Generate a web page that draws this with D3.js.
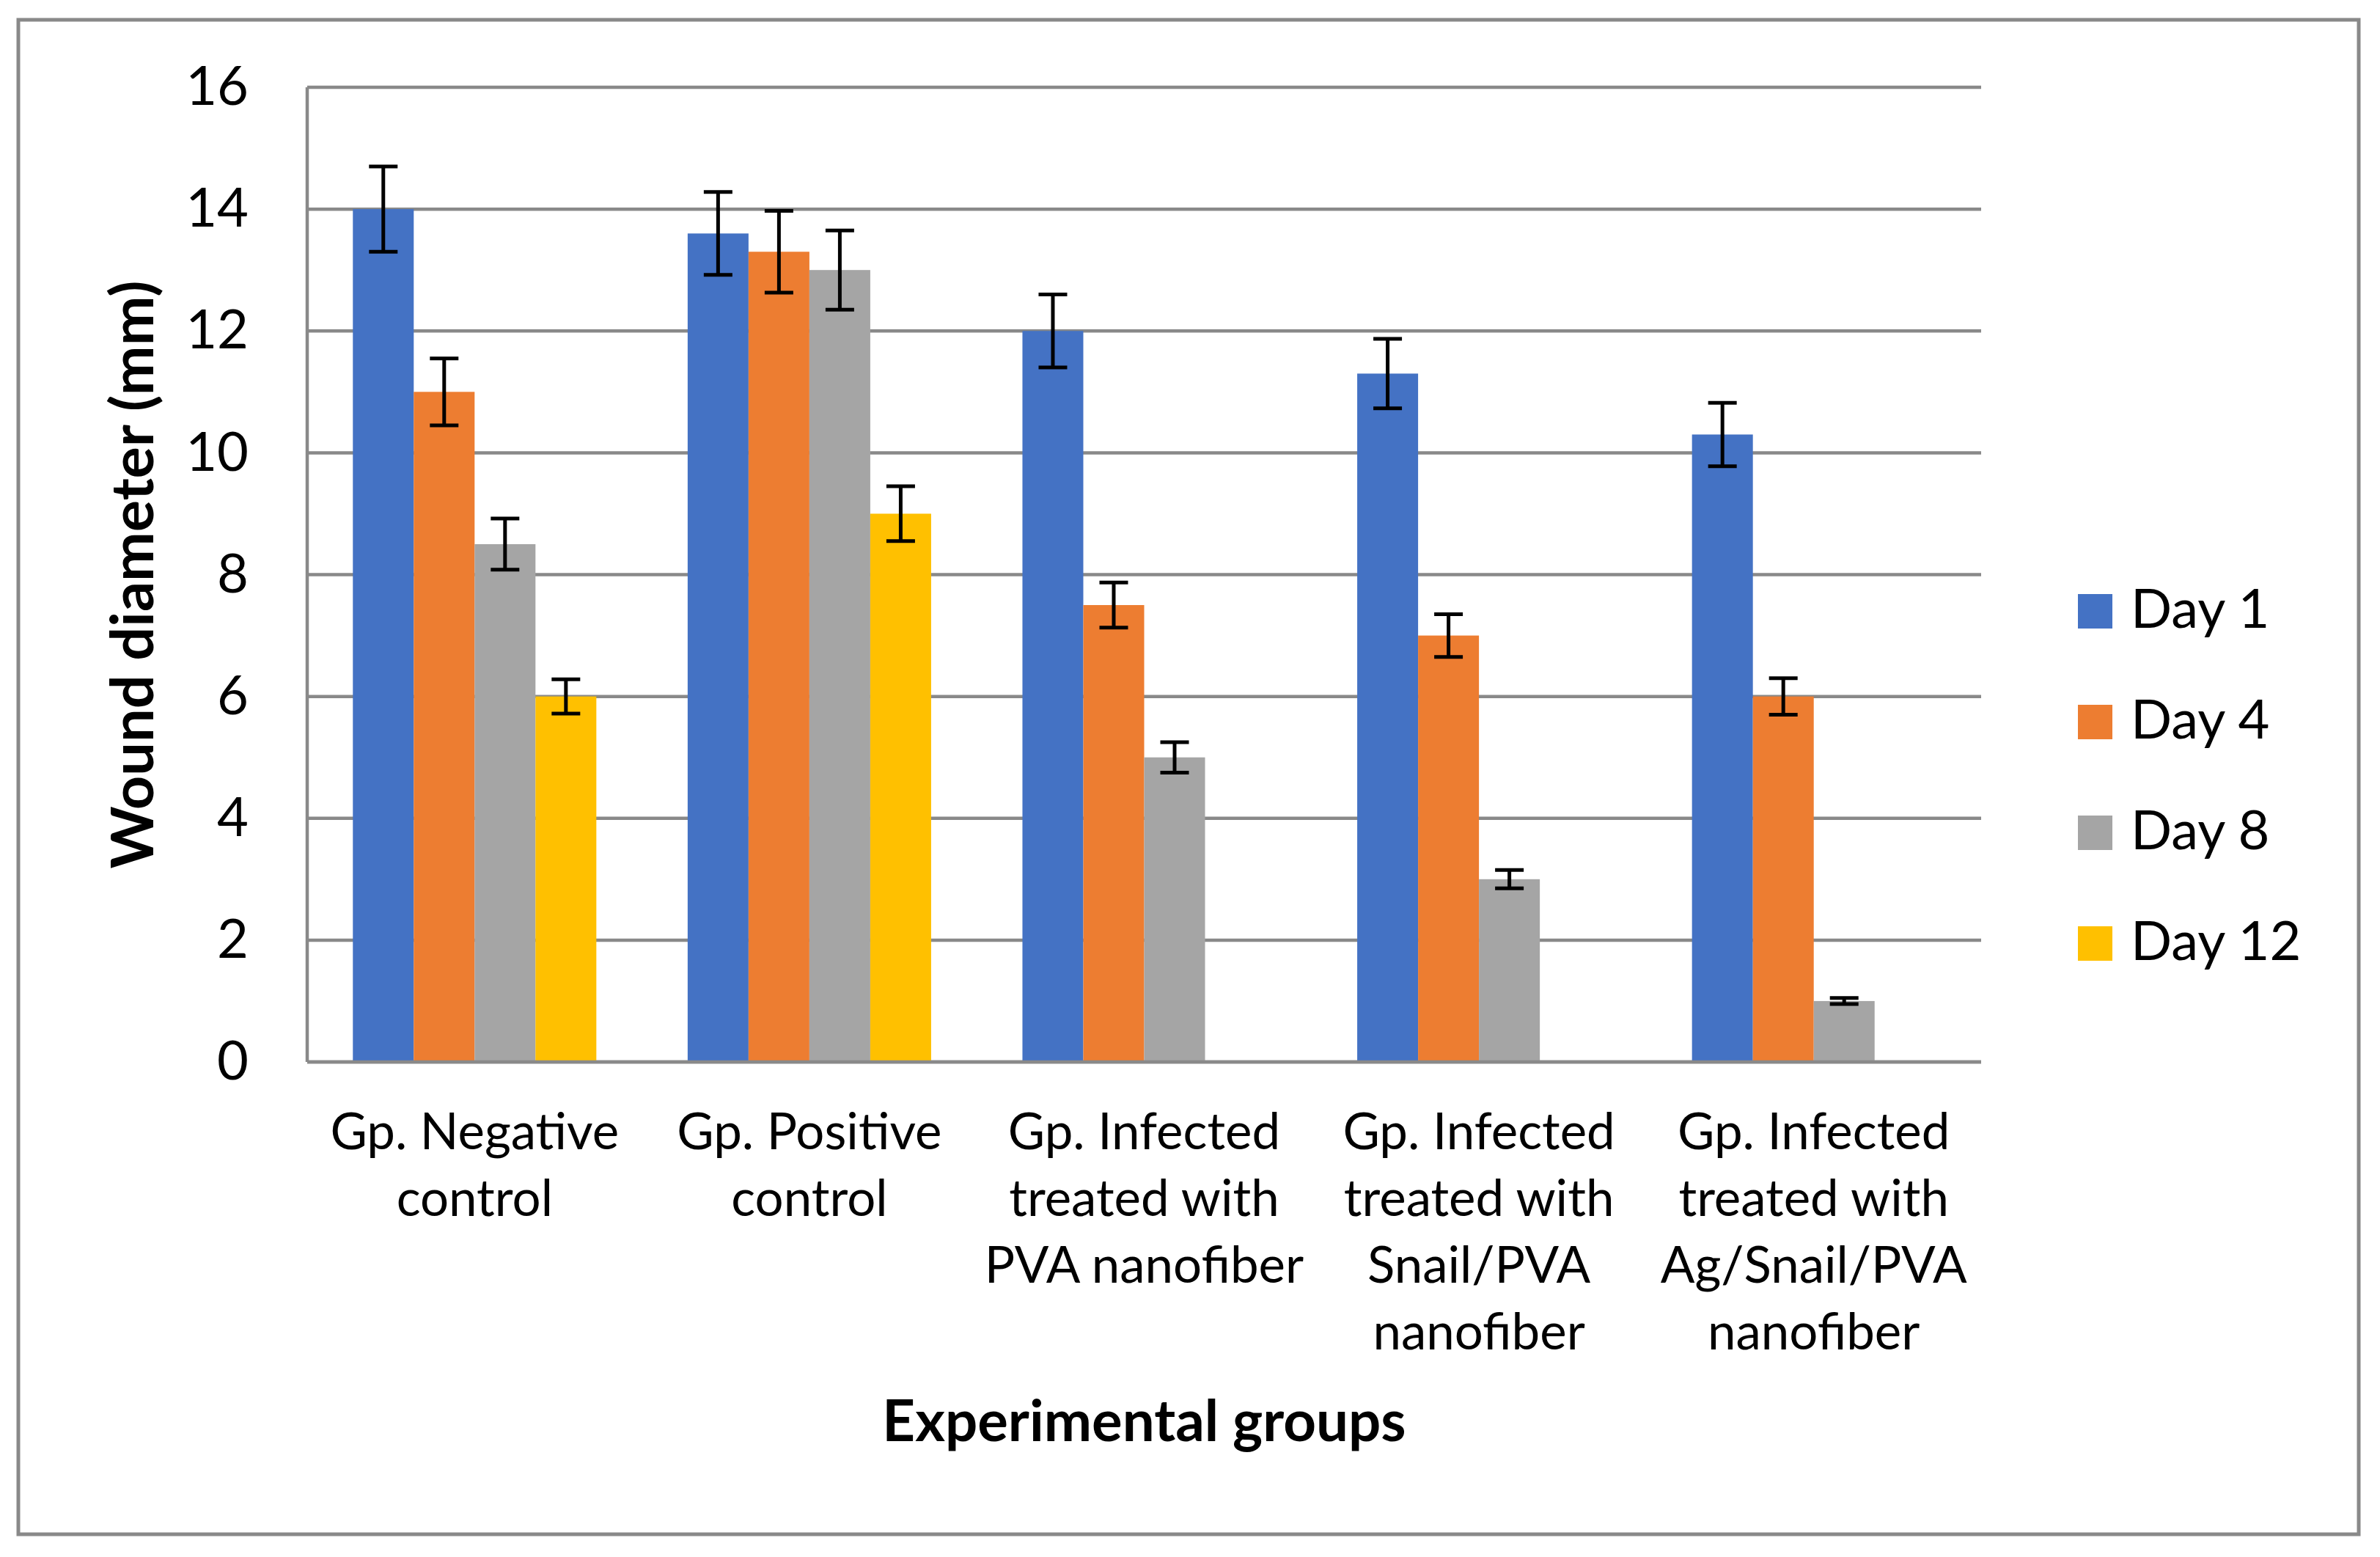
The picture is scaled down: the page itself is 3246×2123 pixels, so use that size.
<!DOCTYPE html>
<html>
<head>
<meta charset="utf-8">
<script src="https://cdn.jsdelivr.net/npm/d3@7"></script>
<style>
  html, body { margin: 0; padding: 0; background: #fff; }
  svg { display: block; font-family: Lato, "Open Sans", sans-serif; }
</style>
</head>
<body>
<svg id="chart"></svg>
<script>
// chart data
const groups = ['neg', 'pos', 'pva', 'snail', 'ag'];
const groupLabels = [
  ['Gp. Negative', 'control'],
  ['Gp. Positive', 'control'],
  ['Gp. Infected', 'treated with', 'PVA nanofiber'],
  ['Gp. Infected', 'treated with', 'Snail/PVA', 'nanofiber'],
  ['Gp. Infected', 'treated with', 'Ag/Snail/PVA', 'nanofiber']
];
const seriesNames = ['Day 1', 'Day 4', 'Day 8', 'Day 12'];
const seriesColors = ['#4472C4', '#ED7D31', '#A5A5A5', '#FFC000'];
const day1 = [14, 13.6, 12, 11.3, 10.3];
const day4 = [11, 13.3, 7.5, 7, 6];
const day8 = [8.5, 13, 5, 3, 1];
const day12 = [6, 9, null, null, null];
const day1Err = [0.7, 0.68, 0.6, 0.57, 0.52];
const day4Err = [0.55, 0.67, 0.37, 0.35, 0.3];
const day8Err = [0.42, 0.65, 0.25, 0.15, 0.05];
const day12Err = [0.28, 0.45, null, null, null];
const yTicks = [0, 2, 4, 6, 8, 10, 12, 14, 16];

const width = 3246;
const height = 2123;
const gridColor = '#898989';

// plot area
const plot = { left: 419, right: 2702, top: 119, bottom: 1448 };

const svg = d3.select('#chart')
  .attr('width', width)
  .attr('height', height);

// outer frame
svg.append('rect')
  .attr('x', 25).attr('y', 27)
  .attr('width', 3192).attr('height', 2065)
  .attr('fill', '#fff')
  .attr('stroke', gridColor)
  .attr('stroke-width', 5);

const x0 = d3.scaleBand()
  .domain(groups)
  .range([plot.left, plot.right]);

// 150% gap between groups -> 0.75 bar widths on each side
const x1 = d3.scaleBand()
  .domain(seriesNames)
  .range([0, x0.bandwidth()])
  .paddingOuter(0.75);

const y = d3.scaleLinear()
  .domain([0, 16])
  .range([plot.bottom, plot.top]);

// gridlines
svg.append('g')
  .selectAll('line')
  .data(yTicks)
  .enter()
  .append('line')
  .attr('x1', plot.left)
  .attr('x2', plot.right)
  .attr('y1', d => y(d))
  .attr('y2', d => y(d))
  .attr('stroke', gridColor)
  .attr('stroke-width', 4.5);

// vertical axis line
svg.append('line')
  .attr('x1', plot.left).attr('x2', plot.left)
  .attr('y1', y(16)).attr('y2', y(0))
  .attr('stroke', gridColor)
  .attr('stroke-width', 4.5);

// bars, one row per series
const seriesValues = [day1, day4, day8, day12];
const seriesErrors = [day1Err, day4Err, day8Err, day12Err];
const barData = [];
seriesNames.forEach((name, si) => {
  groups.forEach((g, gi) => {
    const v = seriesValues[si][gi];
    if (v === null) { return; }
    barData.push({ group: g, series: name, color: seriesColors[si], value: v, err: seriesErrors[si][gi] });
  });
});

svg.append('g')
  .selectAll('rect')
  .data(barData)
  .enter()
  .append('rect')
  .attr('x', d => x0(d.group) + x1(d.series))
  .attr('width', x1.bandwidth())
  .attr('y', d => y(d.value))
  .attr('height', d => y(0) - y(d.value))
  .attr('fill', d => d.color);

// bottom axis line on top of bars
svg.append('line')
  .attr('x1', plot.left).attr('x2', plot.right)
  .attr('y1', y(0)).attr('y2', y(0))
  .attr('stroke', gridColor)
  .attr('stroke-width', 4.5);

// error bars
const capHalf = 19.5;
const errG = svg.append('g')
  .attr('stroke', '#000')
  .attr('stroke-width', 5);
barData.forEach(d => {
  const cx = x0(d.group) + x1(d.series) + x1.bandwidth() / 2;
  const top = y(d.value + d.err);
  const bot = y(d.value - d.err);
  errG.append('line').attr('x1', cx).attr('x2', cx).attr('y1', top).attr('y2', bot);
  errG.append('line').attr('x1', cx - capHalf).attr('x2', cx + capHalf).attr('y1', top).attr('y2', top);
  errG.append('line').attr('x1', cx - capHalf).attr('x2', cx + capHalf).attr('y1', bot).attr('y2', bot);
});

// y tick labels
const yAxis = svg.append('g')
  .attr('transform', `translate(${plot.left},0)`)
  .call(d3.axisLeft(y).tickValues(yTicks).tickSize(0).tickPadding(80));
yAxis.select('.domain').remove();
yAxis.selectAll('text')
  .attr('font-family', 'Lato, sans-serif')
  .attr('font-size', 74)
  .attr('fill', '#000');

// category labels
const lineGap = 91;
const catG = svg.append('g')
  .attr('font-size', 69)
  .attr('text-anchor', 'middle')
  .attr('fill', '#000');
groups.forEach((g, gi) => {
  const cx = x0(g) + x0.bandwidth() / 2;
  groupLabels[gi].forEach((line, li) => {
    catG.append('text')
      .attr('x', cx)
      .attr('y', 1567 + li * lineGap)
      .text(line);
  });
});

// axis titles
svg.append('text')
  .attr('x', (plot.left + plot.right) / 2)
  .attr('y', 1965)
  .attr('text-anchor', 'middle')
  .attr('font-size', 78)
  .attr('font-weight', 'bold')
  .text('Experimental groups');

svg.append('text')
  .attr('transform', `translate(209,${(plot.top + plot.bottom) / 2}) rotate(-90)`)
  .attr('text-anchor', 'middle')
  .attr('font-size', 81)
  .attr('font-weight', 'bold')
  .text('Wound diameter (mm)');

// legend
const legend = svg.append('g')
  .selectAll('g')
  .data(seriesNames)
  .enter()
  .append('g')
  .attr('transform', (d, i) => `translate(2834,${810 + i * 151})`);
legend.append('rect')
  .attr('width', 47)
  .attr('height', 47)
  .attr('fill', (d, i) => seriesColors[i]);
legend.append('text')
  .attr('x', 72)
  .attr('y', 46)
  .attr('font-size', 74)
  .text(d => d);
</script>
</body>
</html>
